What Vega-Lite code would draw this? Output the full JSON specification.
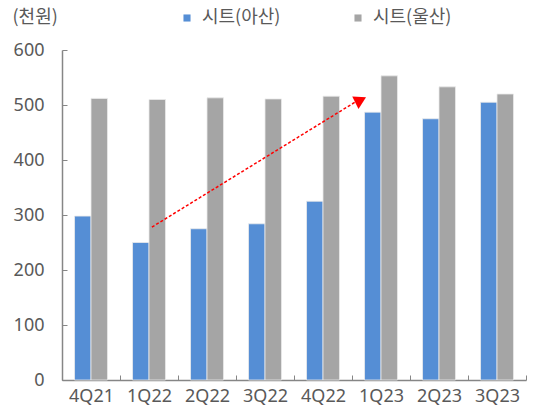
{
  "$schema": "https://vega.github.io/schema/vega-lite/v6.json",
  "width": 464,
  "height": 330,
  "autosize": {"type": "none"},
  "padding": {"left": 62, "top": 50, "right": 11, "bottom": 34},
  "background": "white",
  "config": {
    "view": {"stroke": null},
    "font": "Noto Sans, Noto Sans CJK KR",
    "axis": {"labelFont": "Noto Sans, Noto Sans CJK KR", "titleFont": "Noto Sans CJK KR"}
  },
  "layer": [
    {
      "data": {
        "values": [
          {"q": "4Q21", "s": "시트(아산)", "v": 298},
          {"q": "4Q21", "s": "시트(울산)", "v": 512},
          {"q": "1Q22", "s": "시트(아산)", "v": 250},
          {"q": "1Q22", "s": "시트(울산)", "v": 510},
          {"q": "2Q22", "s": "시트(아산)", "v": 275},
          {"q": "2Q22", "s": "시트(울산)", "v": 513},
          {"q": "3Q22", "s": "시트(아산)", "v": 284},
          {"q": "3Q22", "s": "시트(울산)", "v": 511},
          {"q": "4Q22", "s": "시트(아산)", "v": 325},
          {"q": "4Q22", "s": "시트(울산)", "v": 516},
          {"q": "1Q23", "s": "시트(아산)", "v": 487},
          {"q": "1Q23", "s": "시트(울산)", "v": 553},
          {"q": "2Q23", "s": "시트(아산)", "v": 475},
          {"q": "2Q23", "s": "시트(울산)", "v": 533},
          {"q": "3Q23", "s": "시트(아산)", "v": 505},
          {"q": "3Q23", "s": "시트(울산)", "v": 520}
        ]
      },
      "mark": {"type": "bar", "stroke": "#ebebeb", "strokeWidth": 0.8},
      "encoding": {
        "x": {
          "field": "q", "type": "nominal", "sort": null,
          "scale": {"paddingInner": 0, "paddingOuter": 0},
          "axis": {
            "title": null, "labelAngle": 0, "labelFontSize": 18, "labelColor": "#595959",
            "labelPadding": 12, "domainColor": "#868686", "domainWidth": 1.5,
            "tickColor": "#868686", "tickSize": -5, "tickBand": "extent", "grid": false
          }
        },
        "xOffset": {
          "field": "s", "type": "nominal", "sort": ["시트(아산)", "시트(울산)"],
          "scale": {"paddingInner": 0, "paddingOuter": 0.76}
        },
        "y": {
          "field": "v", "type": "quantitative",
          "scale": {"domain": [0, 600], "nice": false},
          "axis": {
            "values": [0, 100, 200, 300, 400, 500, 600],
            "title": "(천원)", "titleAngle": 0, "titleAlign": "left", "titleBaseline": "middle",
            "titleX": -50, "titleY": -33, "titleFontSize": 18, "titleFontWeight": "normal",
            "titleColor": "#595959",
            "labelFontSize": 18, "labelColor": "#595959", "labelPadding": 23,
            "domainColor": "#868686", "domainWidth": 1.5,
            "tickColor": "#868686", "tickSize": -5, "grid": false
          }
        },
        "color": {
          "field": "s", "type": "nominal", "sort": ["시트(아산)", "시트(울산)"],
          "scale": {"domain": ["시트(아산)", "시트(울산)"], "range": ["#558ED5", "#A5A5A5"]},
          "legend": {
            "title": null, "orient": "none", "direction": "horizontal",
            "legendX": 116, "legendY": -41,
            "symbolType": "square", "symbolSize": 50, "symbolStrokeWidth": 0,
            "labelFontSize": 18, "labelColor": "#595959", "labelFont": "Noto Sans CJK KR",
            "labelOffset": 6, "columnPadding": 68
          }
        }
      }
    },
    {
      "data": {"values": [{"px": 1.55, "py": 278}, {"px": 5.05, "py": 505}]},
      "mark": {"type": "line", "color": "#FF0000", "strokeWidth": 1.5, "strokeDash": [3, 2]},
      "encoding": {
        "x": {"field": "px", "type": "quantitative", "scale": {"domain": [0, 8], "nice": false}, "axis": null},
        "y": {"field": "py", "type": "quantitative"}
      }
    },
    {
      "data": {"values": [{"px": 5.15, "py": 509}]},
      "mark": {"type": "point", "shape": "triangle-right", "filled": true, "color": "#FF0000", "opacity": 1, "size": 190, "angle": 333},
      "encoding": {
        "x": {"field": "px", "type": "quantitative", "scale": {"domain": [0, 8], "nice": false}, "axis": null},
        "y": {"field": "py", "type": "quantitative"}
      }
    }
  ],
  "resolve": {"scale": {"x": "independent"}}
}
